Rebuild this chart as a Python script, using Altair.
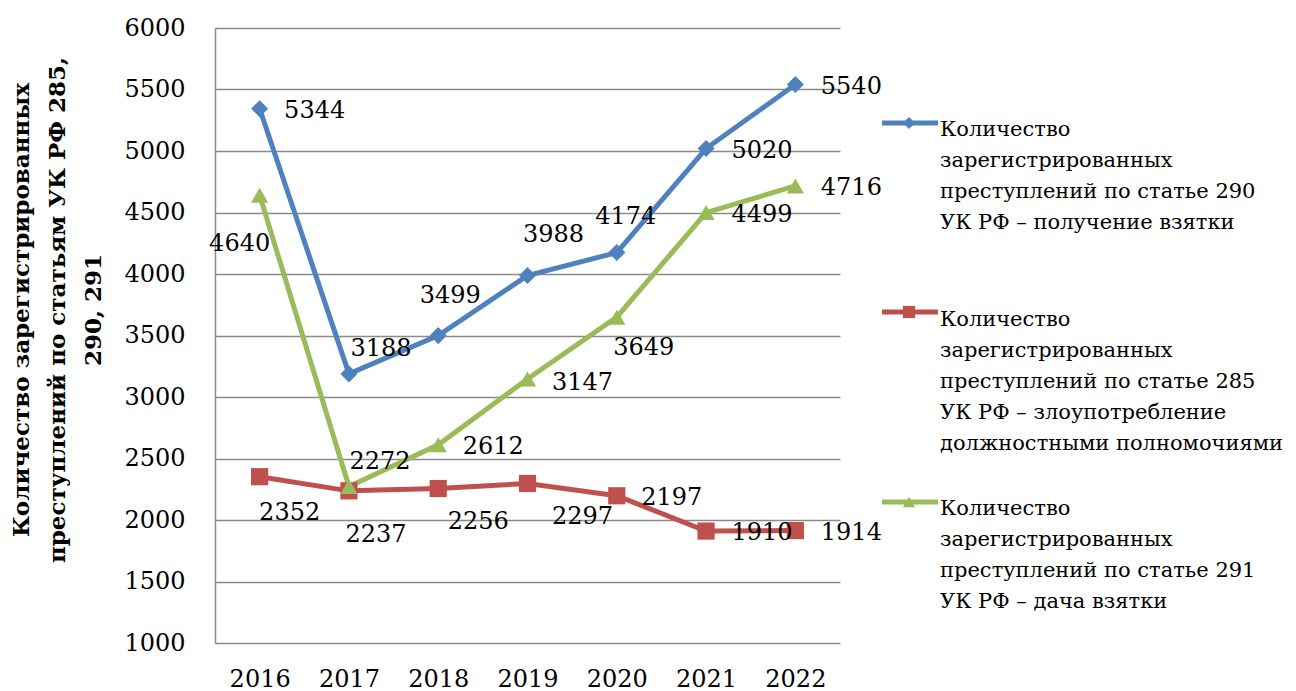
import altair as alt
import pandas as pd

# ---------------- data ----------------
years = [2016, 2017, 2018, 2019, 2020, 2021, 2022]
s290 = [5344, 3188, 3499, 3988, 4174, 5020, 5540]   # получение взятки
s285 = [2352, 2237, 2256, 2297, 2197, 1910, 1914]   # злоупотребление полномочиями
s291 = [4640, 2272, 2612, 3147, 3649, 4499, 4716]   # дача взятки

series_names = ["ст. 290", "ст. 285", "ст. 291"]
legend_texts = [
    ["Количество", "зарегистрированных", "преступлений по статье 290", "УК РФ – получение взятки"],
    ["Количество", "зарегистрированных", "преступлений по статье 285", "УК РФ – злоупотребление",
     "должностными полномочиями"],
    ["Количество", "зарегистрированных", "преступлений по статье 291", "УК РФ – дача взятки"],
]
y_title = ["Количество зарегистрированных", "преступлений по статьям УК РФ 285,", "290, 291"]
y_ticks = [1000, 1500, 2000, 2500, 3000, 3500, 4000, 4500, 5000, 5500, 6000]

# ---------------- styling / layout ----------------
FONT = "DejaVu Serif"
colors = ["#4F81BD", "#C0504D", "#9BBB59"]
shapes = ["diamond", "square", "triangle-up"]
msizes = [290, 300, 400]
W, H = 625, 615
XDOM = [2015.5, 2022.5]
YDOM = [1000, 6000]
PX_YEAR = W / (XDOM[1] - XDOM[0])
PX_UNIT = H / (YDOM[1] - YDOM[0])

# data label offsets in pixels (dx, dy) from each point
off290 = [(55, 2), (32, -25), (12, -40), (26, -40), (9, -36), (56, 2), (56, 2)]
off285 = [(30, 36), (27, 44), (40, 33), (55, 34), (55, 2), (56, 2), (56, 2)]
off291 = [(-20, 49), (31, -25), (55, 2), (55, 4), (27, 31), (56, 2), (56, 2)]

rows = []
for name, vals, offs in zip(series_names, [s290, s285, s291], [off290, off285, off291]):
    for yr, v, (dx, dy) in zip(years, vals, offs):
        rows.append(dict(series=name, year=yr, value=v,
                         lx=yr + dx / PX_YEAR, ly=v - dy / PX_UNIT))
df = pd.DataFrame(rows)

x_enc = alt.X("year:Q",
              scale=alt.Scale(domain=XDOM, nice=False, zero=False),
              axis=alt.Axis(values=years, format="d", title=None, grid=False, domain=False,
                            ticks=False, labelFont=FONT, labelFontSize=24, labelColor="black",
                            labelPadding=24))
y_enc = alt.Y("value:Q",
              scale=alt.Scale(domain=YDOM, nice=False, zero=False),
              axis=alt.Axis(values=y_ticks, format="d", title=None, grid=True, gridColor="#8a8a8a",
                            gridWidth=1.5, domain=True, domainColor="#8a8a8a", domainWidth=1.5,
                            ticks=False, labelFont=FONT, labelFontSize=24, labelColor="black",
                            labelPadding=30))
color_enc = alt.Color("series:N", scale=alt.Scale(domain=series_names, range=colors), legend=None)
shape_enc = alt.Shape("series:N", scale=alt.Scale(domain=series_names, range=shapes), legend=None)
size_enc = alt.Size("series:N", scale=alt.Scale(domain=series_names, range=msizes), legend=None)

base = alt.Chart(df)
lines = base.mark_line(strokeWidth=5).encode(x=x_enc, y=y_enc, color=color_enc)
points = base.mark_point(filled=True, opacity=1).encode(
    x="year:Q", y="value:Q", color=color_enc, shape=shape_enc, size=size_enc)
labels = base.mark_text(font=FONT, fontSize=24, color="black", align="center",
                        baseline="middle").encode(
    x="lx:Q", y="ly:Q", text=alt.Text("value:Q", format="d"))

title_layer = alt.Chart(pd.DataFrame({"k": [0]})).mark_text(
    text=y_title, angle=270, font=FONT, fontSize=23, fontWeight="bold", lineHeight=36,
    align="center", baseline="middle", color="black"
).encode(x=alt.value(-193), y=alt.value(282))

# manual legend (positions in pixels relative to the plot area)
leg_line_y = [95, 284, 474]
leg_text_y = [108, 298, 487]
leg_layers = []
one = pd.DataFrame({"k": [0]})
for i in range(3):
    leg_layers.append(alt.Chart(one).mark_rule(strokeWidth=5, color=colors[i]).encode(
        x=alt.value(667), x2=alt.value(723), y=alt.value(leg_line_y[i])))
    leg_layers.append(alt.Chart(one).mark_point(filled=True, opacity=1, shape=shapes[i],
                                                size=150, color=colors[i]).encode(
        x=alt.value(694), y=alt.value(leg_line_y[i])))
    leg_layers.append(alt.Chart(one).mark_text(
        text=legend_texts[i], font=FONT, fontSize=21, lineHeight=31, align="left",
        baseline="alphabetic", color="black").encode(x=alt.value(725), y=alt.value(leg_text_y[i])))

chart = alt.layer(lines, points, labels, title_layer, *leg_layers).properties(
    width=W, height=H,
    autosize=alt.AutoSizeParams(type="none"),
    padding={"left": 215, "top": 28, "right": 456, "bottom": 48},
    background="white",
).configure_view(stroke=None)

chart.save("out.html", embed_options={"renderer": "svg", "actions": False})
